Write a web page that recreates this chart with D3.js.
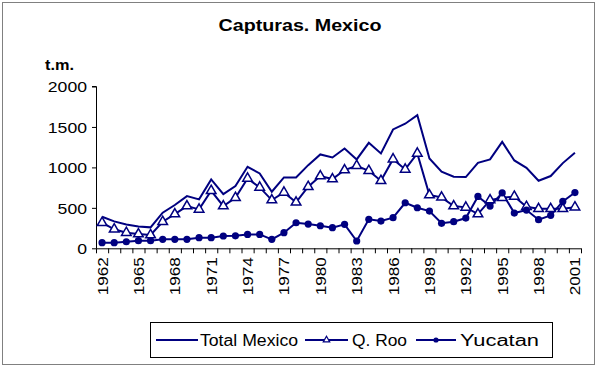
<!DOCTYPE html>
<html><head><meta charset="utf-8">
<script src="https://cdn.jsdelivr.net/npm/d3@7"></script>
<style>body{margin:0;background:#fff}svg{display:block}text{font-family:"Liberation Sans",Arial,sans-serif}</style>
</head><body><svg id="c" width="599" height="368"></svg>
<script>
const years = d3.range(1962, 2002);
const totalMexico = [390,333,294,270,259,440,535,645,605,852,670,770,1007,926,699,876,876,1028,1160,1123,1234,1099,1304,1173,1469,1540,1646,1111,946,884,880,1057,1099,1316,1086,994,835,893,1053,1180];
const qRoo = [316,235,193,176,164,328,423,522,481,711,522,625,864,753,596,691,568,761,893,856,967,1020,958,835,1102,975,1173,658,630,522,506,423,596,625,640,514,488,488,488,508];
const yucatan = [69,69,81,94,94,111,111,111,131,131,152,154,172,172,111,193,316,300,279,255,296,90,358,337,378,563,501,460,309,329,374,641,522,685,436,473,354,407,580,689];
const yTicks = [0,500,1000,1500,2000];
const xLabelYears = years.filter((y,i)=>i%3===0);
const seriesNames = ["Total Mexico","Q. Roo","Yucatan"];
const navy = "#000080";

const svg = d3.select("#c");
svg.append("rect").attr("x",2.5).attr("y",2.5).attr("width",592).attr("height",362)
  .attr("fill","#fff").attr("stroke","#808080").attr("stroke-width",1);

const x = d3.scaleBand().domain(years).range([96,581]).padding(0);
const y = d3.scaleLinear().domain([0,2000]).range([248.3,86.5]);
const cx = d => x(d) + x.bandwidth()/2;

svg.append("text").attr("x",300).attr("y",31).attr("text-anchor","middle")
  .attr("font-size",17).attr("font-weight","bold").attr("textLength",163).attr("lengthAdjust","spacingAndGlyphs")
  .text("Capturas. Mexico");
svg.append("text").attr("x",45).attr("y",70).attr("font-size",15).attr("font-weight","bold")
  .attr("textLength",29).attr("lengthAdjust","spacingAndGlyphs").text("t.m.");

// y axis
const ya = svg.append("g").attr("transform","translate(96,0)")
  .call(d3.axisLeft(y).tickValues(yTicks).tickSize(4).tickPadding(5).tickFormat(d3.format("d")));
ya.select(".domain").attr("stroke","#000").attr("d","M-4,"+y(2000)+"H0.5V"+y(0));
ya.selectAll("text").attr("font-size",15).attr("fill","#000").attr("dy","0.36em")
  .each(function(d){ const s=String(d); d3.select(this).attr("textLength",s.length*9.8).attr("lengthAdjust","spacingAndGlyphs"); });
ya.selectAll("line").attr("stroke","#000");

// x axis
const xa = svg.append("g").attr("transform","translate(0,"+y(0)+")");
xa.append("line").attr("x1",96).attr("x2",581).attr("y1",0.5).attr("y2",0.5).attr("stroke","#000");
xa.selectAll("line.t").data(years.concat([null])).join("line").attr("class","t")
  .attr("x1",(d,i)=> (i<years.length? x(d) : x(years[years.length-1])+x.bandwidth()) + 0.5)
  .attr("x2",(d,i)=> (i<years.length? x(d) : x(years[years.length-1])+x.bandwidth()) + 0.5)
  .attr("y1",0).attr("y2",5).attr("stroke","#000");
xa.selectAll("text").data(xLabelYears).join("text")
  .attr("transform",d=>"translate("+(cx(d)+5.5)+",9) rotate(-90)")
  .attr("text-anchor","end").attr("font-size",15)
  .attr("textLength",38).attr("lengthAdjust","spacingAndGlyphs").text(d=>d);

const line = d3.line().x((d,i)=>cx(years[i])).y(d=>y(d));
svg.append("path").datum(totalMexico).attr("d",line).attr("fill","none").attr("stroke",navy).attr("stroke-width",2);
svg.append("path").datum(qRoo).attr("d",line).attr("fill","none").attr("stroke",navy).attr("stroke-width",2);
svg.append("path").datum(yucatan).attr("d",line).attr("fill","none").attr("stroke",navy).attr("stroke-width",2);

const tri = d3.symbol().type(d3.symbolTriangle).size(40);
svg.selectAll("path.tri").data(qRoo).join("path").attr("class","tri")
  .attr("transform",(d,i)=>"translate("+cx(years[i])+","+y(d)+")")
  .attr("d",tri).attr("fill","#fff").attr("stroke",navy).attr("stroke-width",1.5);
svg.selectAll("circle.dot").data(yucatan).join("circle").attr("class","dot")
  .attr("cx",(d,i)=>cx(years[i])).attr("cy",d=>y(d)).attr("r",3.6).attr("fill",navy);

// legend
const lg = svg.append("g");
lg.append("rect").attr("x",150.5).attr("y",322.5).attr("width",402).attr("height",35)
  .attr("fill","#fff").attr("stroke","#000");
const items = [
  {name:seriesNames[0], x1:156, x2:198, tx:200, tl:98, m:null},
  {name:seriesNames[1], x1:305, x2:348, tx:352, tl:55, m:"tri"},
  {name:seriesNames[2], x1:416, x2:456, tx:460, tl:79, m:"dot"}
];
const ly = 340;
items.forEach(it=>{
  lg.append("line").attr("x1",it.x1).attr("x2",it.x2).attr("y1",ly).attr("y2",ly).attr("stroke",navy).attr("stroke-width",2);
  const mx=(it.x1+it.x2)/2;
  if(it.m==="tri") lg.append("path").attr("d",d3.symbol().type(d3.symbolTriangle).size(18)()).attr("transform","translate("+mx+","+ly+")").attr("fill","#fff").attr("stroke",navy).attr("stroke-width",1.2);
  if(it.m==="dot") lg.append("circle").attr("cx",mx).attr("cy",ly).attr("r",2.6).attr("fill",navy);
  lg.append("text").attr("x",it.tx).attr("y",ly+6).attr("font-size",16).attr("textLength",it.tl).attr("lengthAdjust","spacingAndGlyphs").text(it.name);
});
</script></body></html>
